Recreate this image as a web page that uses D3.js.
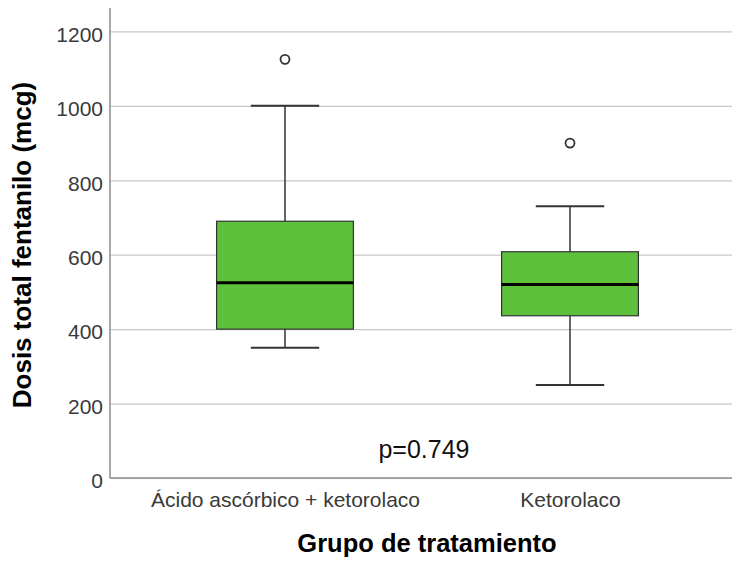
<!DOCTYPE html>
<html>
<head>
<meta charset="utf-8">
<script src="https://cdn.jsdelivr.net/npm/d3@7"></script>
<style>
  body { margin: 0; background: #fff; }
  text { font-family: "Liberation Sans", Arial, sans-serif; }
</style>
</head>
<body>
<div id="chart"></div>
<script>
const groups = ['Ácido ascórbico + ketorolaco', 'Ketorolaco'];
const whiskerLow = [350, 250];
const q1 = [400, 436];
const median = [525, 520];
const q3 = [690, 608];
const whiskerHigh = [1000, 730];
const outliers = [[1125], [900]];
const yTicks = [0, 200, 400, 600, 800, 1000, 1200];

(function() {
  const W = 732, H = 561;
  const plot = { left: 110, right: 732, top: 8, bottom: 478 };

  const svg = d3.select('#chart').append('svg')
    .attr('width', W).attr('height', H);

  const y = d3.scaleLinear().domain([0, 1263]).range([plot.bottom, plot.top]);
  const x = d3.scalePoint().domain(groups).range([plot.left, 745]).padding(0.614);
  const boxW = x.step() * 0.48;
  const capW = boxW / 2;

  // y axis + gridlines
  const yAxis = svg.append('g')
    .attr('transform', `translate(${plot.left},0)`)
    .call(d3.axisLeft(y).tickValues(yTicks).tickFormat(d3.format('d'))
      .tickSizeInner(-(plot.right - plot.left)).tickSizeOuter(0).tickPadding(7));
  yAxis.select('.domain').remove();
  yAxis.selectAll('.tick line').attr('stroke', '#c8c8c8').attr('stroke-width', 1.2);
  yAxis.selectAll('.tick text')
    .attr('y', 3)
    .style('font-size', '21px')
    .style('fill', '#3a3a3a');

  // axis lines
  svg.append('line').attr('x1', plot.left).attr('x2', plot.left).attr('y1', plot.top).attr('y2', plot.bottom)
    .attr('stroke', '#8c8c8c').attr('stroke-width', 1.5);
  svg.append('line').attr('x1', plot.left).attr('x2', plot.right).attr('y1', plot.bottom).attr('y2', plot.bottom)
    .attr('stroke', '#8c8c8c').attr('stroke-width', 1.5);

  // x axis labels
  const xAxis = svg.append('g')
    .attr('transform', `translate(0,${plot.bottom})`)
    .call(d3.axisBottom(x).tickSize(0).tickPadding(14));
  xAxis.select('.domain').remove();
  xAxis.selectAll('.tick text')
    .style('font-size', '21px')
    .style('fill', '#3a3a3a');

  // boxes
  const data = groups.map((g, i) => ({
    g, lo: whiskerLow[i], q1: q1[i], med: median[i], q3: q3[i], hi: whiskerHigh[i], out: outliers[i]
  }));

  const box = svg.selectAll('.box').data(data).enter().append('g').attr('class', 'box');

  box.append('line')
    .attr('x1', d => x(d.g)).attr('x2', d => x(d.g))
    .attr('y1', d => y(d.hi)).attr('y2', d => y(d.q3))
    .attr('stroke', '#333').attr('stroke-width', 1.5);
  box.append('line')
    .attr('x1', d => x(d.g)).attr('x2', d => x(d.g))
    .attr('y1', d => y(d.q1)).attr('y2', d => y(d.lo))
    .attr('stroke', '#333').attr('stroke-width', 1.5);
  box.append('line')
    .attr('x1', d => x(d.g) - capW / 2).attr('x2', d => x(d.g) + capW / 2)
    .attr('y1', d => y(d.hi)).attr('y2', d => y(d.hi))
    .attr('stroke', '#333').attr('stroke-width', 2);
  box.append('line')
    .attr('x1', d => x(d.g) - capW / 2).attr('x2', d => x(d.g) + capW / 2)
    .attr('y1', d => y(d.lo)).attr('y2', d => y(d.lo))
    .attr('stroke', '#333').attr('stroke-width', 2);

  box.append('rect')
    .attr('x', d => x(d.g) - boxW / 2)
    .attr('y', d => y(d.q3))
    .attr('width', boxW)
    .attr('height', d => y(d.q1) - y(d.q3))
    .attr('fill', '#5dc13b')
    .attr('stroke', '#333')
    .attr('stroke-width', 1.2);

  box.append('line')
    .attr('x1', d => x(d.g) - boxW / 2).attr('x2', d => x(d.g) + boxW / 2)
    .attr('y1', d => y(d.med)).attr('y2', d => y(d.med))
    .attr('stroke', '#000').attr('stroke-width', 3);

  box.selectAll('.out')
    .data(d => d.out.map(v => ({ g: d.g, v })))
    .enter().append('circle')
    .attr('cx', d => x(d.g)).attr('cy', d => y(d.v))
    .attr('r', 4.5)
    .attr('fill', '#fff')
    .attr('stroke', '#333')
    .attr('stroke-width', 1.8);

  // annotation
  svg.append('text')
    .attr('x', 424).attr('y', 458)
    .attr('text-anchor', 'middle')
    .style('font-size', '25px')
    .style('fill', '#111')
    .text('p=0.749');

  // axis titles
  svg.append('text')
    .attr('x', 427).attr('y', 552)
    .attr('text-anchor', 'middle')
    .style('font-size', '25.5px')
    .style('font-weight', 'bold')
    .text('Grupo de tratamiento');

  svg.append('text')
    .attr('transform', 'translate(31,245) rotate(-90)')
    .attr('text-anchor', 'middle')
    .style('font-size', '26px')
    .style('font-weight', 'bold')
    .text('Dosis total fentanilo (mcg)');
})();
</script>
</body>
</html>
